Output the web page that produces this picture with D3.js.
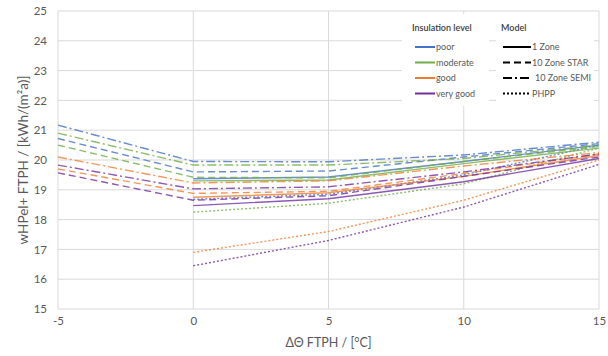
<!DOCTYPE html>
<html>
<head>
<meta charset="utf-8">
<script src="https://cdn.jsdelivr.net/npm/d3@7"></script>
<style>
  body { margin: 0; background: #fff; }
  text { font-family: Lato, "Open Sans", sans-serif; }
</style>
</head>
<body>
<div id="chart"></div>
<script>
// x positions (ΔΘ FTPH)
var xValues = [-5, 0, 5, 10, 15];
var xTicks = [-5, 0, 5, 10, 15];
var yTicks = [15, 16, 17, 18, 19, 20, 21, 22, 23, 24, 25];

var levels = ["poor", "moderate", "good", "very good"];
var models = ["1 Zone", "10 Zone STAR", "10 Zone SEMI", "PHPP"];

// values per level, one row per model (null = no point)
var poor = [
  [null, 19.37, 19.43, 19.95, 20.50],
  [20.72, 19.60, 19.63, 20.10, 20.55],
  [21.17, 19.95, 19.94, 20.17, 20.60],
  [null, 18.68, 18.85, 19.50, 20.50]
];
var moderate = [
  [null, 19.30, 19.33, 19.88, 20.40],
  [20.50, 19.42, 19.40, 19.95, 20.45],
  [20.90, 19.83, 19.83, 20.05, 20.50],
  [null, 18.25, 18.55, 19.20, 20.40]
];
var good = [
  [null, 18.75, 18.90, 19.45, 20.15],
  [19.70, 18.88, 18.95, 19.55, 20.20],
  [20.10, 19.23, 19.30, 19.80, 20.25],
  [null, 16.90, 17.60, 18.65, 20.00]
];
var veryGood = [
  [null, 18.47, 18.70, 19.27, 20.05],
  [19.57, 18.65, 18.80, 19.45, 20.10],
  [19.83, 19.03, 19.10, 19.60, 20.20],
  [null, 16.45, 17.30, 18.42, 19.85]
];
var levelData = [poor, moderate, good, veryGood];

var width = 608, height = 356;
var margin = {top: 11, right: 9, bottom: 47, left: 58};

var svg = d3.select("#chart")
  .append("svg")
    .attr("width", width)
    .attr("height", height);

var x = d3.scaleLinear()
  .domain([-5, 15])
  .range([margin.left, width - margin.right]);

var y = d3.scaleLinear()
  .domain([15, 25])
  .range([height - margin.bottom, margin.top]);

var color = d3.scaleOrdinal().domain(levels)
  .range(["#4472C4", "#70AD47", "#ED7D31", "#7030A0"]);

var dash = d3.scaleOrdinal().domain(models)
  .range(["none", "7,4", "9,3,2,3", "2,2"]);

// grid
svg.append("g")
  .selectAll("line")
  .data(yTicks)
  .join("line")
    .attr("x1", x(-5)).attr("x2", x(15))
    .attr("y1", d => y(d)).attr("y2", d => y(d))
    .attr("stroke", "#d9d9d9")
    .attr("stroke-width", 1);

svg.append("g")
  .selectAll("line")
  .data(xTicks)
  .join("line")
    .attr("x1", d => x(d)).attr("x2", d => x(d))
    .attr("y1", y(15)).attr("y2", y(25))
    .attr("stroke", "#d9d9d9")
    .attr("stroke-width", 1);

// axes (labels only)
var yAxis = svg.append("g")
  .attr("transform", "translate(" + x(-5) + ",0)")
  .call(d3.axisLeft(y).tickValues(yTicks).tickSize(0).tickPadding(11));
yAxis.select(".domain").remove();
yAxis.selectAll("text")
  .style("font-size", "11.5px")
  .attr("fill", "#595959");

var xAxis = svg.append("g")
  .attr("transform", "translate(0," + y(15) + ")")
  .call(d3.axisBottom(x).tickValues(xTicks).tickFormat(d => String(d)).tickSize(0).tickPadding(8));
xAxis.select(".domain").remove();
xAxis.selectAll("text")
  .style("font-size", "11.5px")
  .attr("fill", "#595959");

// lines
var line = d3.line()
  .defined(d => d.v != null)
  .x(d => x(d.x))
  .y(d => y(d.v));

var series = [];
levels.forEach(function (lev, i) {
  models.forEach(function (mod, j) {
    series.push({
      level: lev,
      model: mod,
      points: xValues.map((xv, k) => ({x: xv, v: levelData[i][j][k]}))
    });
  });
});

svg.append("g")
  .selectAll("path")
  .data(series)
  .join("path")
    .attr("d", d => line(d.points))
    .attr("fill", "none")
    .attr("stroke", d => color(d.level))
    .attr("stroke-width", 1.4)
    .attr("stroke-dasharray", d => dash(d.model))
    .attr("opacity", 0.8);

// axis titles
svg.append("text")
  .attr("transform", "translate(25," + y(20) + ")rotate(-90)")
  .attr("text-anchor", "middle")
  .attr("dominant-baseline", "middle")
  .attr("fill", "#595959")
  .style("font-size", "13.5px")
  .text("wHPel+ FTPH / [kWh/(m²a)]");

svg.append("text")
  .attr("x", x(5))
  .attr("y", 347)
  .attr("text-anchor", "middle")
  .attr("fill", "#595959")
  .style("font-size", "12.5px")
  .text("ΔΘ FTPH / [°C]");

// legends
var legL = svg.append("g");
legL.append("rect")
  .attr("x", 402).attr("y", 14).attr("width", 87).attr("height", 92)
  .attr("fill", "#fff");
legL.append("text")
  .attr("x", 412).attr("y", 31)
  .attr("fill", "#404040")
  .style("font-size", "9px")
  .style("font-weight", "600")
  .text("Insulation level");
levels.forEach(function (lev, i) {
  var yy = 47 + i * 15.5;
  legL.append("line")
    .attr("x1", 415).attr("x2", 435)
    .attr("y1", yy).attr("y2", yy)
    .attr("stroke", color(lev))
    .attr("stroke-width", 2);
  legL.append("text")
    .attr("x", 436).attr("y", yy + 3.2)
    .attr("fill", "#595959")
    .style("font-size", "9px")
    .text(lev);
});

var legM = svg.append("g");
legM.append("rect")
  .attr("x", 496).attr("y", 14).attr("width", 98).attr("height", 92)
  .attr("fill", "#fff");
legM.append("text")
  .attr("x", 501).attr("y", 31)
  .attr("fill", "#404040")
  .style("font-size", "9px")
  .style("font-weight", "600")
  .text("Model");
models.forEach(function (mod, i) {
  var yy = 47 + i * 15.5;
  legM.append("line")
    .attr("x1", 503).attr("x2", 531)
    .attr("y1", yy).attr("y2", yy)
    .attr("stroke", "#000")
    .attr("stroke-width", 2)
    .attr("stroke-dasharray", dash(mod));
  legM.append("text")
    .attr("x", mod == "10 Zone SEMI" ? 535 : 532).attr("y", yy + 3.2)
    .attr("fill", "#595959")
    .style("font-size", "9px")
    .text(mod);
});
</script>
</body>
</html>
